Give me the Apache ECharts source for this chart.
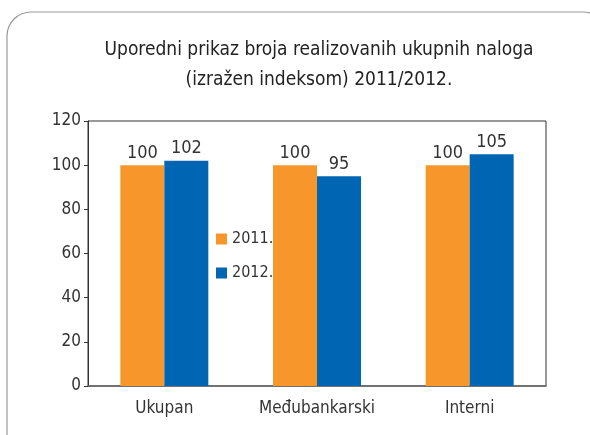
<!DOCTYPE html>
<html>
<head>
<meta charset="utf-8">
<script src="https://cdn.jsdelivr.net/npm/echarts@6/dist/echarts.min.js"></script>
<style>
  html, body { margin: 0; padding: 0; background: #fff; }
  #barChart { width: 590px; height: 435px; }
</style>
</head>
<body>
<div id="barChart"></div>
<script>
const categories = ['Ukupan', 'Međubankarski', 'Interni']
const values2011 = [100, 100, 100]
const values2012 = [102, 95, 105]
const yTicks = { min: 0, max: 120, interval: 20 }

const font = '"DejaVu Sans Condensed", "Liberation Sans Narrow", sans-serif'
const textColor = '#333'

let myChart = echarts.init(document.getElementById('barChart'))
myChart.setOption({
  animation: false,
  // rounded frame around the whole chart
  graphic: [{
    type: 'rect',
    shape: { x: 7, y: 12, width: 600, height: 460, r: 24 },
    style: { fill: 'none', stroke: '#9a9a9a', lineWidth: 1.2 }
  }],
  title: {
    text: 'Uporedni prikaz broja realizovanih ukupnih naloga\n(izražen indeksom) 2011/2012.',
    left: 314,
    textAlign: 'center',
    top: 30,
    textStyle: {
      fontFamily: font,
      fontSize: 19,
      fontWeight: 'normal',
      color: '#222',
      lineHeight: 30
    }
  },
  legend: {
    orient: 'vertical',
    left: 211,
    top: 226,
    itemWidth: 11,
    itemHeight: 11,
    itemGap: 18,
    icon: 'rect',
    textStyle: { fontFamily: font, fontSize: 16, color: textColor }
  },
  grid: {
    left: 88,
    right: 44,
    top: 121,
    bottom: 49,
    show: true,
    borderColor: '#333',
    borderWidth: 1
  },
  xAxis: {
    type: 'category',
    data: categories,
    axisTick: { show: false },
    axisLine: { lineStyle: { color: '#666', width: 1.5 } },
    axisLabel: { interval: 0, fontFamily: font, fontSize: 17, color: textColor, margin: 14 }
  },
  yAxis: {
    type: 'value',
    min: yTicks.min,
    max: yTicks.max,
    interval: yTicks.interval,
    splitLine: { show: false },
    axisLine: { show: true, lineStyle: { color: '#333' } },
    axisTick: { show: true, length: 4, lineStyle: { color: '#333' } },
    axisLabel: { fontFamily: font, fontSize: 17, color: textColor, margin: 7 }
  },
  series: [
    {
      name: '2011.',
      type: 'bar',
      data: values2011,
      barWidth: 44,
      barGap: '0%',
      itemStyle: { color: '#F7962A' },
      label: { show: true, position: 'top', distance: 3, fontFamily: font, fontSize: 18, color: textColor }
    },
    {
      name: '2012.',
      type: 'bar',
      data: values2012,
      barWidth: 44,
      barGap: '0%',
      itemStyle: { color: '#0066B3' },
      label: { show: true, position: 'top', distance: 3, fontFamily: font, fontSize: 18, color: textColor }
    }
  ]
})
</script>
</body>
</html>
